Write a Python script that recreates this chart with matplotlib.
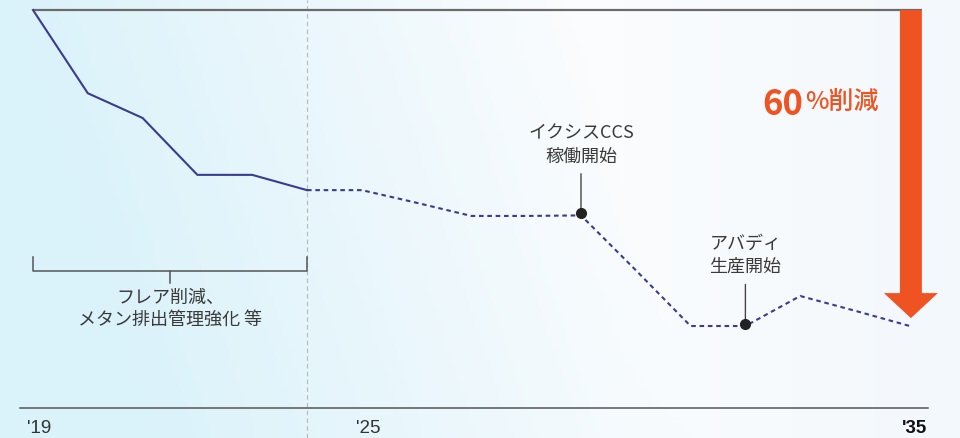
import numpy as np
import matplotlib
matplotlib.use("Agg")
import matplotlib.pyplot as plt

plt.rcParams['font.family'] = ['Noto Sans CJK JP', 'DejaVu Sans']

# data (index, 2019 = 100)
years = np.arange(2019, 2036)
values = [100, 84.2, 79.5, 68.7, 68.7, 65.8, 65.8, 63.4, 60.9, 60.9, 61.0,
          50.6, 40.0, 40.0, 45.7, 42.9, 40.0]
actual_end = 2024
tick_years = [2019, 2025, 2035]
tick_labels = ["'19", "'25", "'35"]
events = [(2029, "イクシスCCS\n稼働開始"), (2032, "アバディ\n生産開始")]
bracket_span = (2019, 2024)
bracket_text = "フレア削減、\nメタン排出管理強化 等"

NAVY = '#3b3b8e'
ORANGE = '#f05322'
GRAY = '#6b6b6b'
TEXT = '#3a3a3a'

fig = plt.figure(figsize=(9.6, 4.38), dpi=100)
ax = fig.add_axes([0, 0, 1, 1])
ax.set_xlim(2018.398, 2035.916)
ax.set_ylim(18.74, 101.9)
ax.axis('off')

# background gradient
H, W = 60, 200
xx = np.linspace(0, 1, W)[None, :]
yy = np.linspace(0, 1, H)[:, None]
t = np.clip(xx * 1.7 - (1 - yy) * 0.25, 0, 1)  # 0 = left blue, 1 = white
left = np.array([218, 242, 250]) / 255
white = np.array([250, 252, 254]) / 255
right = np.array([243, 248, 252]) / 255
img = left * (1 - t[..., None]) + white * t[..., None]
r = np.clip((xx - 0.65) / 0.35, 0, 1)[..., None]
img = img * (1 - r) + right * r
ax.imshow(img, extent=(*ax.get_xlim(), *ax.get_ylim()), aspect='auto',
          origin='lower', zorder=0)

vals = np.array(values)
i_end = list(years).index(actual_end)

# reference line at 2019 level
ax.plot([years[0], 2035.22], [vals[0], vals[0]], color=GRAY, lw=1.6,
        solid_capstyle='butt', zorder=3)

# present divider
ax.axvline(actual_end, color='#b8b8b8', lw=0.8, dashes=(4, 3), zorder=1)

# actual and planned paths
ax.plot(years[:i_end + 1], vals[:i_end + 1], color=NAVY, lw=1.5, zorder=4)
ax.plot(years[i_end:], vals[i_end:], color=NAVY, lw=1.5, dashes=(2.2, 1.8), zorder=4)

# base axis
ax.plot([2018.763, 2035.33], [24.4, 24.4], color='#555555', lw=1.1, zorder=2)
for yr, lab in zip(tick_years, tick_labels):
    ax.annotate(lab, (yr, 24.4), xytext=(6 if yr < 2035 else 5, -20),
                textcoords='offset pixels', ha='center', va='center',
                fontsize=13.5, color='#333333' if yr < 2035 else '#111111',
                fontweight='bold' if yr == 2035 else 'normal',
                family=['Liberation Sans Narrow', 'Liberation Sans', 'DejaVu Sans'])

# events
for yr, lab in events:
    v = vals[list(years).index(yr)]
    ax.plot([yr], [v + 0.4], 'o', color='#222222', ms=7, zorder=6)
    ax.annotate(lab, (yr, v), xytext=(0, 50), textcoords='offset pixels',
                ha='center', va='bottom', fontsize=13, color=TEXT,
                linespacing=1.35,
                arrowprops=dict(arrowstyle='-', color='#444444', lw=1.0,
                                shrinkA=4, shrinkB=4))

# bracket
b0, b1 = bracket_span
by = 100 - (271 - 10) / 5.267
bh = 14 / 5.267
ax.plot([b0, b0, b1, b1], [by + bh, by, by, by + bh], color='#555555', lw=1.1,
        zorder=3)
bm = (b0 + b1) / 2
ax.plot([bm, bm], [by, by - 12 / 5.267], color='#555555', lw=1.1, zorder=3)
ax.text(bm, by - 18 / 5.267, bracket_text, ha='center', va='top',
        fontsize=13, color=TEXT, linespacing=1.3)

# 60% reduction arrow
tip = 41.5
ax.arrow(2035.02, vals[0], 0, tip - vals[0], width=0.4, head_width=0.985,
         head_length=4.75, length_includes_head=True, color=ORANGE, lw=0,
         zorder=5)
ty = 100 - (104 - 10) / 5.267
tx = 2019 + (803 - 33) / 54.8
ax.text(tx, ty, "60", ha='right', va='center', fontsize=25, fontweight='bold',
        color=ORANGE)
ax.text(tx + 0.04, ty + 0.3, "%削減", ha='left', va='center', fontsize=18,
        fontweight='medium', color=ORANGE)

fig.savefig('out.png', dpi=100)
